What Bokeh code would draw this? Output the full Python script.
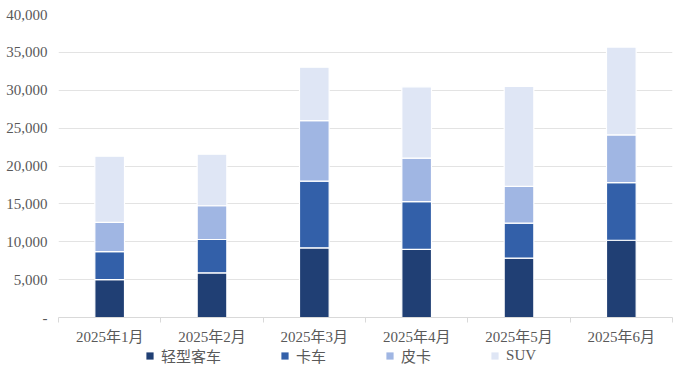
from bokeh.plotting import figure
from bokeh.layouts import column
from bokeh.models import (Range1d, FixedTicker, NumeralTickFormatter, Legend, LegendItem,
                          ColumnDataSource)
from bokeh.embed import file_html
from bokeh.resources import INLINE

months = ["2025年1月", "2025年2月", "2025年3月", "2025年4月", "2025年5月", "2025年6月"]
series_names = ["轻型客车", "卡车", "皮卡", "SUV"]
light_bus = [5000, 5900, 9200, 9000, 7850, 10200]
truck = [3700, 4400, 8800, 6300, 4600, 7600]
pickup = [3850, 4450, 8000, 5750, 4850, 6300]
suv = [8750, 6800, 7050, 9400, 13200, 11600]
y_ticks = [0, 5000, 10000, 15000, 20000, 25000, 30000, 35000, 40000]
colors = ["#203F74", "#3360A9", "#A0B6E3", "#DFE6F5"]

FONT = "Liberation Serif, Noto Sans CJK SC"
TXT = "#595959"

xs = [i + 0.5 for i in range(len(months))]
data = {"x": xs}
keys = ["light_bus", "truck", "pickup", "suv"]
for k, v in zip(keys, [light_bus, truck, pickup, suv]):
    data[k] = v
src = ColumnDataSource(data)

p = figure(width=673, height=347, output_backend="svg", toolbar_location=None,
           x_range=Range1d(0, len(months)), y_range=Range1d(0, 40000),
           min_border_left=58, min_border_right=1, min_border_top=14, min_border_bottom=28)
p.outline_line_color = None
p.background_fill_color = "white"

p.vbar_stack(keys, x="x", width=0.29, source=src, color=colors,
             line_color="white", line_width=1.2)

# y axis
p.yaxis.ticker = FixedTicker(ticks=y_ticks)
p.yaxis.formatter = NumeralTickFormatter(format="0,0")
p.yaxis.major_label_overrides = {0: "-"}
p.yaxis.axis_line_color = None
p.yaxis.major_tick_line_color = None
p.yaxis.minor_tick_line_color = None
p.yaxis.major_tick_out = 0
p.yaxis.major_label_standoff = 11
p.yaxis.major_label_text_font = FONT
p.yaxis.major_label_text_font_size = "15px"
p.yaxis.major_label_text_color = TXT

# x axis
p.xaxis.ticker = FixedTicker(ticks=xs, minor_ticks=list(range(len(months) + 1)))
p.xaxis.major_label_overrides = {x: m for x, m in zip(xs, months)}
p.xaxis.axis_line_color = "#D9D9D9"
p.xaxis.axis_line_width = 1
p.xaxis.major_tick_line_color = None
p.xaxis.major_tick_out = 0
p.xaxis.minor_tick_line_color = "#D9D9D9"
p.xaxis.minor_tick_out = 5
p.xaxis.minor_tick_in = 0
p.xaxis.major_label_standoff = 6
p.xaxis.major_label_text_font = FONT
p.xaxis.major_label_text_font_size = "15px"
p.xaxis.major_label_text_color = TXT

p.xgrid.grid_line_color = None
p.ygrid.ticker = FixedTicker(ticks=y_ticks[1:])
p.ygrid.grid_line_color = "#E3E3E3"
p.ygrid.grid_line_width = 1

# legend in its own strip below the chart (same series, renderers hidden)
lf = figure(width=673, height=20, output_backend="svg", toolbar_location=None,
            x_range=Range1d(0, len(months)), y_range=Range1d(0, 40000),
            x_axis_location=None, y_axis_location=None,
            min_border=0, min_border_left=0, min_border_right=0,
            min_border_top=0, min_border_bottom=0)
lf.grid.visible = False
lf.outline_line_color = None
leg_renderers = lf.vbar_stack(keys, x="x", width=0.29, source=src, color=colors,
                              line_color=None)
for r in leg_renderers:
    r.visible = False
legend = Legend(items=[LegendItem(label=n, renderers=[r]) for n, r in zip(series_names, leg_renderers)],
                orientation="horizontal", location=(87, 1))
legend.glyph_width = 9
legend.glyph_height = 9
legend.label_standoff = 7
legend.spacing = 59
legend.padding = 0
legend.margin = 0
legend.border_line_color = None
legend.background_fill_alpha = 0
legend.inactive_fill_alpha = 0
legend.label_text_font = FONT
legend.label_text_font_size = "15px"
legend.label_text_color = TXT
lf.add_layout(legend, "center")

open("out.html", "w").write(file_html(column(p, lf, spacing=0), INLINE))
